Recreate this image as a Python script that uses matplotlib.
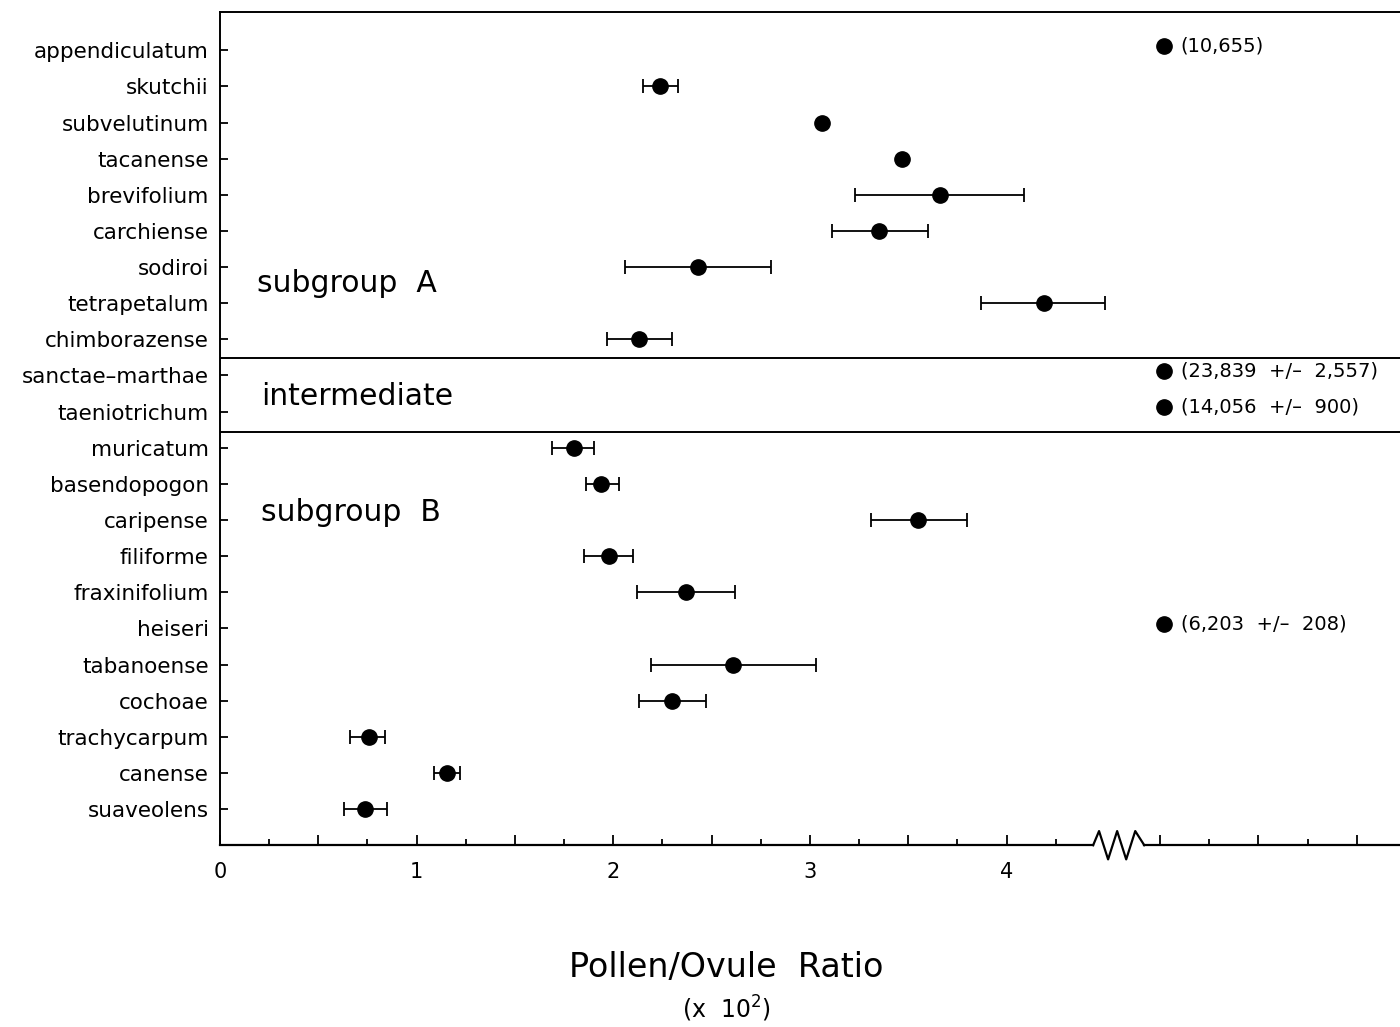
import matplotlib.pyplot as plt
import numpy as np
from matplotlib.ticker import FixedLocator, NullFormatter

# species listed top to bottom
species = ["appendiculatum", "skutchii", "subvelutinum", "tacanense", "brevifolium",
           "carchiense", "sodiroi", "tetrapetalum", "chimborazense",
           "sanctae\u2013marthae", "taeniotrichum",
           "muricatum", "basendopogon", "caripense", "filiforme", "fraxinifolium",
           "heiseri", "tabanoense", "cochoae", "trachycarpum", "canense", "suaveolens"]

# pollen/ovule ratio (x 10^2), nan = shown beyond the axis break
ratio = [np.nan, 2.24, 3.06, 3.47, 3.66, 3.35, 2.43, 4.19, 2.13,
         np.nan, np.nan,
         1.80, 1.94, 3.55, 1.98, 2.37, np.nan, 2.61, 2.30, 0.76, 1.155, 0.74]
err_low = [np.nan, 2.15, np.nan, np.nan, 3.23, 3.11, 2.06, 3.87, 1.97,
           np.nan, np.nan,
           1.69, 1.86, 3.31, 1.85, 2.12, np.nan, 2.19, 2.13, 0.66, 1.09, 0.63]
err_high = [np.nan, 2.33, np.nan, np.nan, 4.09, 3.60, 2.80, 4.50, 2.30,
            np.nan, np.nan,
            1.90, 2.03, 3.80, 2.10, 2.62, np.nan, 3.03, 2.47, 0.84, 1.22, 0.85]

# large values, drawn past the break with their text
big_rows = ["appendiculatum", "sanctae\u2013marthae", "taeniotrichum", "heiseri"]
big_text = ["(10,655)", "(23,839  +/\u2013  2,557)", "(14,056  +/\u2013  900)", "(6,203  +/\u2013  208)"]
big_pos = 4.80

groups = ["subgroup  A", "intermediate", "subgroup  B"]
group_x = [0.19, 0.21, 0.21]
group_rows = [6.45, 9.57, 12.78]
separators = [8.52, 10.57]

fig = plt.figure(figsize=(14, 10.27), dpi=100)
ax = fig.add_axes([0.157, 0.177, 0.843, 0.811])

y = np.arange(len(species))
ratio = np.array(ratio)
lo = ratio - np.array(err_low)
hi = np.array(err_high) - ratio

has_err = ~np.isnan(lo)
ax.errorbar(ratio[has_err], y[has_err], xerr=[lo[has_err], hi[has_err]],
            fmt='none', ecolor='black', elinewidth=1.3, capsize=5, capthick=1.3)
ax.plot(ratio, y, 'o', color='black', markersize=11)

for name, txt in zip(big_rows, big_text):
    r = species.index(name) - 0.13
    ax.plot(big_pos, r, 'o', color='black', markersize=11, clip_on=False)
    ax.text(big_pos + 0.085, r, txt, fontsize=14, va='center', ha='left')

for g, gx, r in zip(groups, group_x, group_rows):
    ax.text(gx, r, g, fontsize=21.5, va='center', ha='left')

for s in separators:
    ax.axhline(s, color='black', lw=1.4)

ax.set_xlim(0, 6)
ax.set_ylim(22.0, -1.05)
ax.set_yticks(y)
ax.set_yticklabels(species, fontsize=15.5)

# x ticks: major every 0.5, minor in between, labels on integers, separate scale after break
major = [0, 0.5, 1, 1.5, 2, 2.5, 3, 3.5, 4, 4.78, 5.28, 5.78]
minor = [0.25, 0.75, 1.25, 1.75, 2.25, 2.75, 3.25, 3.75, 4.25, 5.03, 5.53]
ax.xaxis.set_major_locator(FixedLocator(major))
ax.xaxis.set_minor_locator(FixedLocator(minor))
ax.set_xticklabels(["0", "", "1", "", "2", "", "3", "", "4", "", "", ""], fontsize=15)
ax.xaxis.set_minor_formatter(NullFormatter())
ax.tick_params(axis='x', which='major', direction='in', length=7, width=1.3, pad=12)
ax.tick_params(axis='x', which='minor', direction='in', length=4, width=1.3)
ax.tick_params(axis='y', direction='in', length=6, width=1.3, pad=8)

ax.spines['right'].set_visible(False)
ax.spines['bottom'].set_visible(False)
ax.spines['top'].set_linewidth(1.4)
ax.spines['left'].set_linewidth(1.4)

# broken bottom axis with zigzag
trans = ax.get_xaxis_transform()
ax.plot([0, 4.44], [0, 0], color='black', lw=1.6, transform=trans, clip_on=False)
ax.plot([4.70, 6], [0, 0], color='black', lw=1.6, transform=trans, clip_on=False)
zx = [4.44, 4.47, 4.516, 4.562, 4.608, 4.654, 4.70]
zy = [0, 0.017, -0.017, 0.017, -0.017, 0.017, 0]
ax.plot(zx, zy, color='black', lw=1.6, transform=trans, clip_on=False)

fig.text(0.519, 0.058, "Pollen/Ovule  Ratio", fontsize=24, ha='center', va='center')
fig.text(0.519, 0.018, "(x  10$^{\\mathregular{2}}$)", fontsize=17, ha='center', va='center')

fig.savefig("out.png", dpi=100)
